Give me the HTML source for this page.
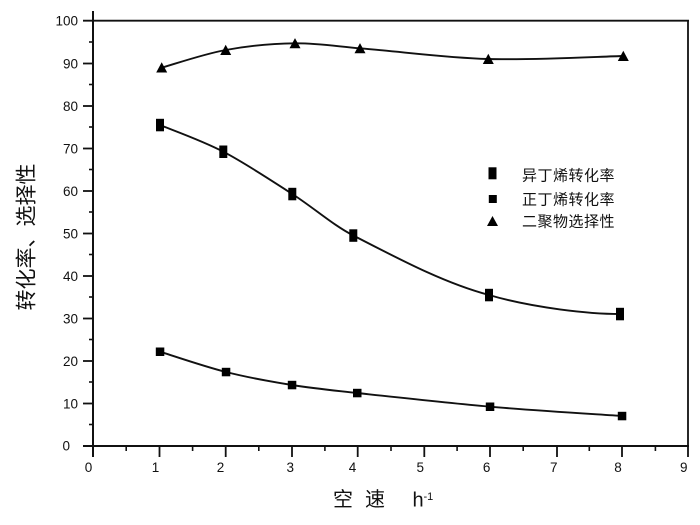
<!DOCTYPE html>
<html><head><meta charset="utf-8"><style>
html,body{margin:0;padding:0;background:#fff;}
svg{display:block;}
text{font-family:"Liberation Sans","Noto Sans CJK SC",sans-serif;fill:#111;}
</style></head><body>
<svg width="700" height="525" viewBox="0 0 700 525" xmlns="http://www.w3.org/2000/svg">
<rect width="700" height="525" fill="#fff"/>
<g stroke="#111" fill="none">
<line x1="93" y1="11" x2="93" y2="457" stroke-width="2"/>
<line x1="83" y1="446" x2="689" y2="446" stroke-width="2"/>
<line x1="83" y1="20.7" x2="689" y2="20.7" stroke-width="1.8"/>
<line x1="688" y1="20" x2="688" y2="457" stroke-width="1.8"/>
<g stroke-width="1.8">
<line x1="83" y1="403.5" x2="93" y2="403.5"/>
<line x1="83" y1="361" x2="93" y2="361"/>
<line x1="83" y1="318.5" x2="93" y2="318.5"/>
<line x1="83" y1="276" x2="93" y2="276"/>
<line x1="83" y1="233.5" x2="93" y2="233.5"/>
<line x1="83" y1="191" x2="93" y2="191"/>
<line x1="83" y1="148.5" x2="93" y2="148.5"/>
<line x1="83" y1="106" x2="93" y2="106"/>
<line x1="83" y1="63.5" x2="93" y2="63.5"/>
</g>
<g stroke-width="1.6">
<line x1="89" y1="424.5" x2="93" y2="424.5"/>
<line x1="89" y1="382" x2="93" y2="382"/>
<line x1="89" y1="339.5" x2="93" y2="339.5"/>
<line x1="89" y1="297" x2="93" y2="297"/>
<line x1="89" y1="254.5" x2="93" y2="254.5"/>
<line x1="89" y1="212" x2="93" y2="212"/>
<line x1="89" y1="169.5" x2="93" y2="169.5"/>
<line x1="89" y1="127" x2="93" y2="127"/>
<line x1="89" y1="84.5" x2="93" y2="84.5"/>
<line x1="89" y1="42" x2="93" y2="42"/>
</g>
<g stroke-width="1.8">
<line x1="159.5" y1="446" x2="159.5" y2="457"/>
<line x1="225.7" y1="446" x2="225.7" y2="457"/>
<line x1="292" y1="446" x2="292" y2="457"/>
<line x1="357.7" y1="446" x2="357.7" y2="457"/>
<line x1="424.3" y1="446" x2="424.3" y2="457"/>
<line x1="490" y1="446" x2="490" y2="457"/>
<line x1="557" y1="446" x2="557" y2="457"/>
<line x1="622" y1="446" x2="622" y2="457"/>
</g>
<g stroke-width="1.6">
<line x1="126.2" y1="446" x2="126.2" y2="451"/>
<line x1="192.6" y1="446" x2="192.6" y2="451"/>
<line x1="258.8" y1="446" x2="258.8" y2="451"/>
<line x1="324.9" y1="446" x2="324.9" y2="451"/>
<line x1="391" y1="446" x2="391" y2="451"/>
<line x1="457.1" y1="446" x2="457.1" y2="451"/>
<line x1="523.2" y1="446" x2="523.2" y2="451"/>
<line x1="589.3" y1="446" x2="589.3" y2="451"/>
<line x1="655.4" y1="446" x2="655.4" y2="451"/>
</g>
<g stroke-width="1.9">
<path d="M161.7,67.7 C172.4,64.75 203.5,54.07 225.7,50 C247.9,45.93 272.6,43.58 295,43.3 C316.7,43.03 338.3,46.54 360,48.3 C402.8,51.77 445.5,57.75 488.3,59 C533.3,60.32 600.8,56.5 623.3,56"/>
<path d="M160,125 C170.55,129.45 201.25,140.2 223.3,151.7 C245.35,163.2 270.63,180.03 292.3,194 C313.97,207.97 333,225.1 353.3,235.5 C398.5,258.7 443.8,283 489,295 C533.45,308.08 590,314 620,314"/>
<path d="M160,351.7 C171,355.08 204,366.45 226,372 C248,377.55 270.12,381.5 292,385 C313.88,388.5 324.3,389.38 357.3,393 C390.3,396.62 445.88,402.87 490,406.7 C534.12,410.53 600,414.45 622,416"/>
</g>
</g>
<g fill="#000">
<polygon points="156.2,72.5 167.2,72.5 161.7,62.3"/>
<polygon points="220.2,55 231.2,55 225.7,44.8"/>
<polygon points="289.5,48.3 300.5,48.3 295,38.1"/>
<polygon points="354.5,53.3 365.5,53.3 360,43.1"/>
<polygon points="482.8,64 493.8,64 488.3,53.8"/>
<polygon points="617.8,61 628.8,61 623.3,50.8"/>

<rect x="156" y="118.8" width="8" height="12.5"/>
<rect x="219.3" y="145.5" width="8" height="12.5"/>
<rect x="288.3" y="187.8" width="8" height="12.5"/>
<rect x="349.3" y="229.3" width="8" height="12.5"/>
<rect x="485" y="288.8" width="8" height="12.5"/>
<rect x="616" y="307.8" width="8" height="12.5"/>

<rect x="155.8" y="347.5" width="8.5" height="8.5"/>
<rect x="221.8" y="367.8" width="8.5" height="8.5"/>
<rect x="287.8" y="380.8" width="8.5" height="8.5"/>
<rect x="353" y="388.8" width="8.5" height="8.5"/>
<rect x="485.8" y="402.5" width="8.5" height="8.5"/>
<rect x="617.8" y="411.8" width="8.5" height="8.5"/>

<rect x="488.5" y="167.3" width="8" height="12"/>
<rect x="488.8" y="195" width="8" height="8"/>
<polygon points="487,226 498,226 492.5,216"/>
</g>
<g font-size="15" letter-spacing="0.5">
<text x="522" y="180.5">异丁烯转化率</text>
<text x="522" y="204.5">正丁烯转化率</text>
<text x="522" y="226.5">二聚物选择性</text>
</g>
<g font-size="13.5" text-anchor="end">
<text x="70" y="450.5">0</text>
<text x="78" y="408.3">10</text>
<text x="78" y="365.8">20</text>
<text x="78" y="323.3">30</text>
<text x="78" y="280.8">40</text>
<text x="78" y="238.3">50</text>
<text x="78" y="195.8">60</text>
<text x="78" y="153.3">70</text>
<text x="78" y="110.8">80</text>
<text x="78" y="68.3">90</text>
<text x="78" y="25.5">100</text>
</g>
<g font-size="13.5" text-anchor="middle">
<text x="88.5" y="472">0</text>
<text x="155.5" y="472">1</text>
<text x="220.5" y="472">2</text>
<text x="290.3" y="472">3</text>
<text x="352.5" y="472">4</text>
<text x="420.3" y="472">5</text>
<text x="486.6" y="472">6</text>
<text x="553.7" y="472">7</text>
<text x="618" y="472">8</text>
<text x="683.7" y="472">9</text>
</g>
<text x="333" y="506" font-size="20">空</text>
<text x="365" y="506" font-size="20">速</text>
<text x="412.5" y="506.5" font-size="20">h</text>
<text x="423.5" y="500" font-size="11">-1</text>
<text transform="translate(27,237) rotate(-90)" text-anchor="middle" dominant-baseline="central" font-size="21">转化率、选择性</text>
</svg>
</body></html>
